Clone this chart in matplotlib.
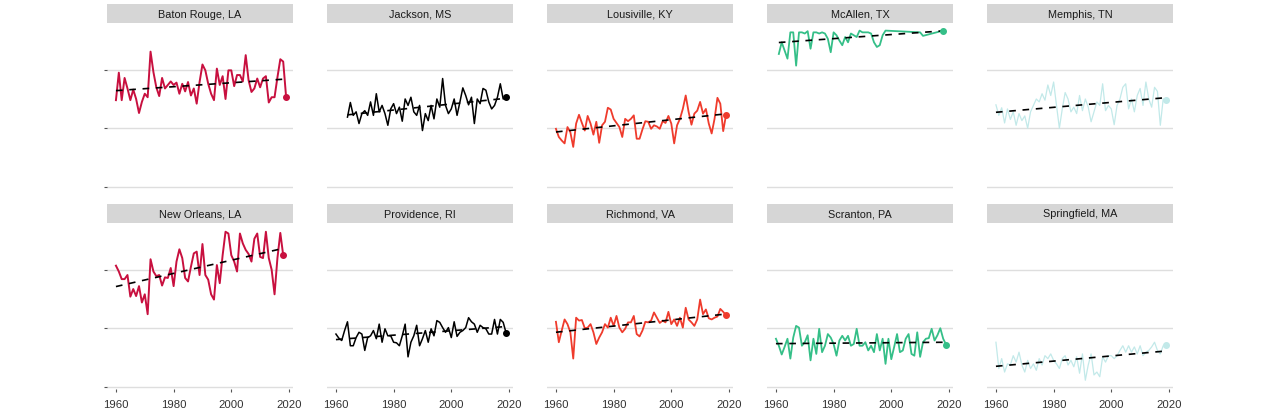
import numpy as np
import matplotlib
matplotlib.use('Agg')
import matplotlib.pyplot as plt

plt.rcParams['font.family'] = ['Liberation Sans', 'DejaVu Sans']

# annual values, one list per city
baton_rouge_years = list(range(1960, 2020))
baton_rouge = [64.8, 69.5, 64.8, 68.6, 66.8, 64.8, 66.6, 65.0, 62.6, 64.5,
               65.9, 65.3, 73.1, 69.6, 67.0, 65.5, 68.6, 66.8, 67.4, 68.0,
               67.4, 67.8, 65.9, 67.6, 66.3, 67.9, 65.6, 66.8, 64.2, 67.9,
               70.9, 69.9, 67.6, 65.9, 64.8, 70.2, 67.4, 68.9, 65.0, 69.9,
               69.9, 67.2, 69.1, 69.1, 68.0, 72.5, 68.2, 66.2, 66.8, 68.5,
               67.0, 68.5, 68.9, 64.4, 65.3, 65.3, 68.7, 71.8, 71.4, 65.4]

jackson_years = list(range(1964, 2020))
jackson = [61.9, 64.4, 62.2, 62.8, 60.8, 62.5, 63.0, 62.2, 64.5, 62.2,
           65.9, 62.8, 63.9, 62.5, 60.5, 63.3, 64.2, 62.5, 63.6, 61.2,
           65.0, 63.9, 65.3, 62.8, 62.2, 63.9, 59.6, 62.5, 61.3, 63.9,
           61.6, 65.0, 63.6, 68.5, 63.9, 62.5, 63.3, 65.0, 62.2, 64.5,
           66.9, 65.6, 64.0, 65.3, 60.8, 65.0, 64.2, 66.8, 66.5, 64.5,
           63.3, 63.9, 65.3, 67.6, 65.0, 65.3]

louisville_years = list(range(1960, 2020))
louisville = [59.9, 58.5, 57.9, 57.4, 60.2, 59.3, 56.8, 60.8, 62.3, 60.9,
              59.6, 62.1, 60.8, 58.9, 61.1, 57.5, 60.5, 61.1, 63.5, 63.2,
              61.6, 60.9, 60.2, 58.5, 61.6, 61.2, 61.6, 62.2, 58.2, 58.2,
              59.8, 61.2, 61.1, 59.9, 60.5, 60.3, 59.9, 61.2, 60.9, 62.1,
              60.8, 57.4, 60.5, 61.6, 63.3, 65.6, 62.8, 60.6, 62.5, 63.0,
              64.5, 62.5, 63.3, 60.8, 59.1, 61.6, 65.2, 64.2, 59.5, 62.3]

mcallen_years = list(range(1961, 1999)) + [2010, 2011, 2018]
mcallen = [72.7, 74.7, 73.3, 71.9, 76.4, 76.4, 70.7, 76.4, 76.4, 76.2,
           76.6, 73.6, 76.4, 76.4, 76.2, 76.4, 76.2, 75.3, 73.0, 76.4,
           75.9, 75.0, 74.2, 75.6, 74.7, 76.2, 75.9, 75.6, 76.7, 76.4,
           76.4, 76.4, 76.2, 74.7, 73.9, 74.2, 75.9, 76.7, 76.4, 75.8,
           76.7]

memphis_years = list(range(1960, 2020))
memphis = [64.0, 62.2, 63.5, 60.9, 63.3, 61.5, 62.8, 60.5, 62.5, 61.3,
           62.1, 60.0, 62.8, 63.9, 65.0, 64.5, 65.9, 64.8, 67.4, 65.6,
           67.9, 63.9, 60.0, 63.3, 66.1, 65.0, 62.8, 63.6, 62.5, 65.6,
           63.0, 65.0, 63.6, 61.1, 62.8, 64.5, 63.9, 67.6, 63.0, 63.9,
           63.3, 60.6, 63.9, 65.0, 67.0, 67.6, 63.3, 65.0, 62.8, 65.6,
           66.8, 63.9, 67.9, 65.0, 63.6, 67.0, 66.3, 60.5, 65.0, 64.8]

new_orleans_years = list(range(1960, 2019))
new_orleans = [70.7, 69.7, 68.4, 68.4, 69.1, 65.4, 66.7, 65.5, 67.2, 64.4,
               65.8, 62.4, 71.8, 69.7, 68.9, 69.1, 67.3, 68.7, 68.6, 70.3,
               67.2, 71.4, 73.5, 72.0, 68.6, 68.0, 70.5, 72.8, 73.1, 69.1,
               74.4, 69.1, 68.3, 65.8, 64.9, 70.8, 67.7, 72.5, 76.5, 76.2,
               72.5, 71.4, 69.7, 76.2, 74.5, 73.4, 72.7, 71.4, 75.3, 76.2,
               72.2, 72.0, 76.5, 72.0, 70.0, 65.8, 72.0, 76.3, 72.5]

providence_years = list(range(1960, 2020))
providence = [59.0, 58.3, 57.9, 59.6, 61.1, 57.0, 57.0, 58.4, 59.3, 59.0,
              56.2, 58.4, 58.7, 59.6, 58.2, 60.7, 57.6, 59.9, 58.7, 58.7,
              57.6, 57.5, 57.0, 58.7, 60.7, 55.1, 57.6, 58.7, 60.5, 57.0,
              58.2, 59.6, 57.6, 59.9, 58.7, 61.3, 61.0, 60.1, 59.3, 60.1,
              58.4, 61.1, 58.6, 59.3, 59.6, 60.1, 61.8, 61.1, 60.7, 59.3,
              60.5, 60.1, 59.9, 59.0, 59.0, 61.5, 59.0, 61.5, 61.0, 59.2]

richmond_years = list(range(1960, 2020))
richmond = [61.1, 57.6, 59.6, 61.5, 60.7, 59.3, 54.8, 61.8, 61.3, 61.4,
            60.0, 60.1, 60.7, 59.3, 57.3, 58.4, 59.3, 60.7, 60.1, 61.8,
            60.4, 62.1, 60.1, 59.3, 59.9, 61.0, 61.0, 62.1, 59.0, 58.6,
            59.6, 61.1, 61.0, 61.3, 62.7, 61.8, 60.9, 61.3, 61.0, 62.8,
            60.7, 61.5, 60.4, 61.8, 60.1, 63.5, 61.5, 61.0, 60.4, 61.5,
            64.9, 62.4, 63.2, 61.7, 61.5, 61.8, 62.0, 63.3, 62.8, 62.2]

scranton_years = list(range(1960, 2020))
scranton = [58.2, 57.0, 55.5, 56.8, 58.2, 54.8, 58.4, 60.4, 60.1, 57.0,
            57.6, 58.8, 54.5, 58.2, 55.6, 59.9, 55.9, 57.0, 59.0, 58.4,
            57.3, 55.3, 57.9, 58.7, 57.9, 58.7, 57.0, 57.3, 59.9, 57.0,
            57.0, 57.6, 56.2, 57.0, 55.9, 59.0, 56.2, 58.2, 53.9, 58.2,
            54.7, 56.8, 59.0, 55.9, 56.2, 58.2, 59.0, 55.6, 55.3, 59.3,
            55.1, 57.6, 58.2, 58.3, 59.9, 57.9, 58.8, 60.0, 58.2, 57.2]

springfield_years = list(range(1960, 2020))
springfield = [57.6, 53.1, 54.8, 52.5, 53.9, 53.7, 55.3, 54.2, 55.9, 53.7,
               52.5, 54.5, 53.1, 53.9, 52.8, 54.8, 53.7, 55.3, 54.8, 55.6,
               54.5, 53.9, 53.1, 54.8, 55.3, 53.7, 54.5, 53.4, 55.1, 52.3,
               55.6, 51.1, 53.7, 55.6, 52.0, 52.5, 51.7, 55.1, 54.2, 55.3,
               55.3, 54.8, 55.3, 56.2, 57.0, 55.9, 57.0, 55.9, 56.8, 55.6,
               57.0, 55.3, 55.9, 56.2, 56.8, 57.6, 56.2, 55.6, 57.0, 57.2]

cities = ["Baton Rouge, LA", "Jackson, MS", "Lousiville, KY", "McAllen, TX", "Memphis, TN",
          "New Orleans, LA", "Providence, RI", "Richmond, VA", "Scranton, PA", "Springfield, MA"]
series = [(baton_rouge_years, baton_rouge), (jackson_years, jackson),
          (louisville_years, louisville), (mcallen_years, mcallen),
          (memphis_years, memphis), (new_orleans_years, new_orleans),
          (providence_years, providence), (richmond_years, richmond),
          (scranton_years, scranton), (springfield_years, springfield)]

crimson = '#c8103f'
red = '#ef3b2c'
green = '#35bf88'
pale = '#c2e9e9'
colors = [crimson, 'black', red, green, pale, crimson, 'black', red, green, pale]
widths = [1.4, 1.1, 1.3, 1.3, 0.9, 1.4, 1.1, 1.3, 1.3, 0.9]

W, H = 1280, 414
fig = plt.figure(figsize=(W / 100, H / 100), dpi=100)

col_left = [107, 327, 547, 767, 987]
panel_w = 186
row_top = [24, 224]
panel_h = 166
strip_h = 19

for i, name in enumerate(cities):
    r, c = divmod(i, 5)
    x0 = col_left[c]
    y0 = row_top[r]
    ax = fig.add_axes([x0 / W, 1 - (y0 + panel_h) / H, panel_w / W, panel_h / H])
    sx = fig.add_axes([x0 / W, 1 - y0 / H, panel_w / W, strip_h / H])
    sx.set_facecolor('#d6d6d6')
    sx.set_xticks([])
    sx.set_yticks([])
    for s in sx.spines.values():
        s.set_visible(False)
    sx.text(0.5, 0.5, name, ha='center', va='center', fontsize=7.8,
            color='#1a1a1a', transform=sx.transAxes)

    yrs, vals = series[i]
    yrs = np.array(yrs)
    vals = np.array(vals)
    ax.plot(yrs, vals, color=colors[i], lw=widths[i], zorder=3)
    k, b = np.polyfit(yrs, vals, 1)
    ax.plot([yrs[0], yrs[-1]], [k * yrs[0] + b, k * yrs[-1] + b],
            color='black', lw=1.2, ls=(0, (4, 4)), zorder=4)
    ax.plot(yrs[-1], vals[-1], 'o', color=colors[i], ms=4, zorder=5)

    ax.set_xlim(1956.9, 2021.4)
    ax.set_ylim(49.6, 78)
    ax.set_yticks([50, 60, 70])
    ax.set_xticks([1960, 1980, 2000, 2020])
    ax.grid(axis='y', color='#dedede', lw=1)
    ax.set_axisbelow(True)
    for s in ax.spines.values():
        s.set_visible(False)
    ax.tick_params(axis='both', length=2.5, width=0.8, color='#555555',
                   labelsize=8.2, labelcolor='#333333', pad=5)
    ax.set_yticklabels([])
    if c != 0:
        ax.tick_params(axis='y', length=0)
    if r == 0:
        ax.tick_params(axis='x', length=0, labelbottom=False)

fig.savefig('out.png', dpi=100, facecolor='white')
